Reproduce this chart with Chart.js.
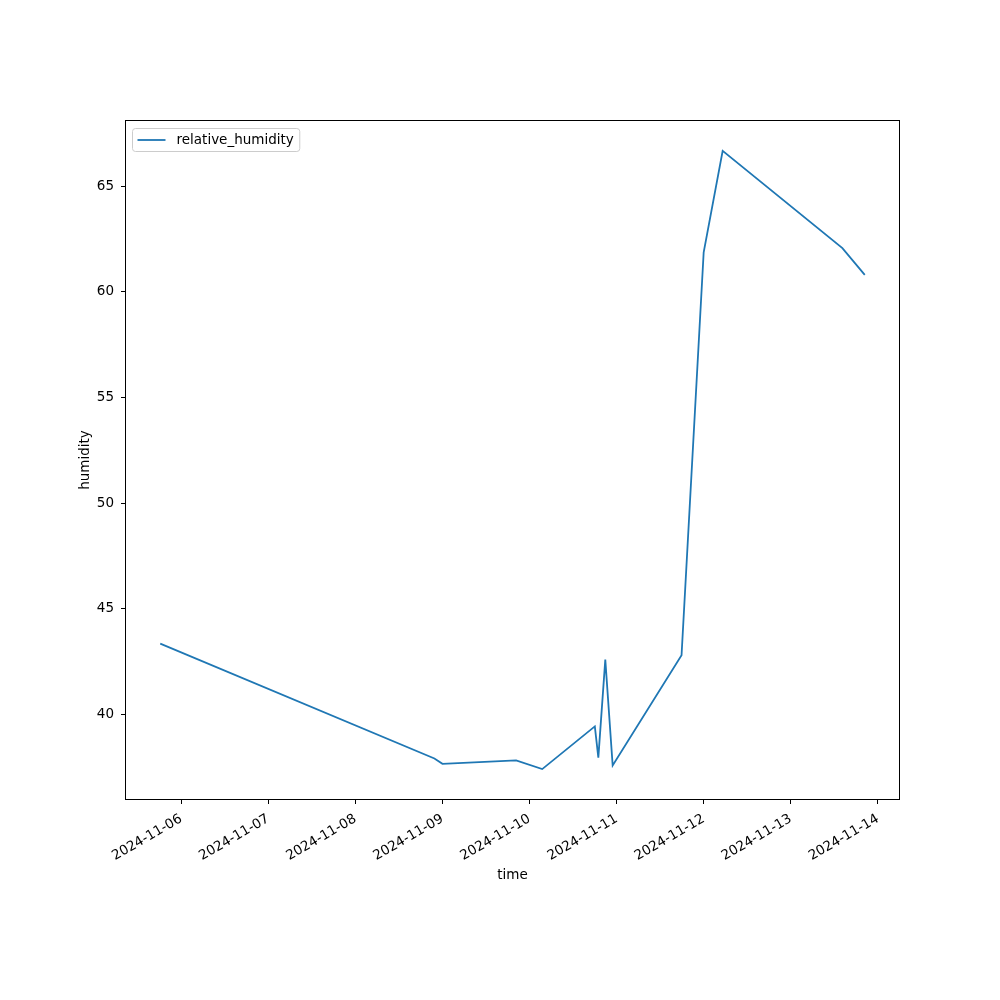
<!DOCTYPE html>
<html>
<head>
<meta charset="utf-8">
<script src="https://cdn.jsdelivr.net/npm/chart.js@4.4.1/dist/chart.umd.min.js"></script>
<style>
  body { margin: 0; background: #fff; }
</style>
</head>
<body>
<canvas id="humidityChart" width="1000" height="1000"></canvas>
<script>
// readings (UTC)
const times = [
  "2024-11-05T18:13", "2024-11-08T21:47", "2024-11-09T00:00", "2024-11-09T20:18",
  "2024-11-10T03:30", "2024-11-10T18:00", "2024-11-10T18:58", "2024-11-10T20:53",
  "2024-11-10T22:55", "2024-11-11T17:54", "2024-11-12T00:00", "2024-11-12T05:14",
  "2024-11-13T14:14", "2024-11-13T20:24"
];
const humidity = [43.35, 37.91, 37.66, 37.82, 37.41, 39.43, 37.95, 42.59, 37.58, 42.8, 61.87, 66.67, 62.07, 60.8];
const dateTicks = ["2024-11-06", "2024-11-07", "2024-11-08", "2024-11-09", "2024-11-10",
                   "2024-11-11", "2024-11-12", "2024-11-13", "2024-11-14"];
const yTicks = [40, 45, 50, 55, 60, 65];

const DAY = 86400000;
const toDays = (s) => Date.parse(s + (s.length > 10 ? ":00Z" : "T00:00:00Z")) / DAY;
const xs = times.map(toDays);

// matplotlib-like 5% margins
const xMin = Math.min(...xs), xMax = Math.max(...xs);
const yMin = Math.min(...humidity), yMax = Math.max(...humidity);
const xPad = (xMax - xMin) * 0.05, yPad = (yMax - yMin) * 0.05;

const points = xs.map((x, i) => ({ x: x, y: humidity[i] }));

Chart.defaults.font.family = "'DejaVu Sans', sans-serif";
Chart.defaults.font.size = 13.5;
Chart.defaults.color = "#000";

// axes frame + legend in the upper left corner of the plot
const framePlugin = {
  id: "frame",
  afterDraw(chart) {
    const c = chart.ctx, a = chart.chartArea;
    c.save();
    c.strokeStyle = "#000";
    c.lineWidth = 1;
    c.strokeRect(Math.round(a.left) + 0.5, Math.round(a.top) + 0.5, Math.round(a.right - a.left) - 1, Math.round(a.bottom - a.top) - 1);

    // legend
    const ds = chart.data.datasets[0];
    c.font = "13.5px 'DejaVu Sans', sans-serif";
    const tw = c.measureText(ds.label).width;
    const bx = a.left + 7.5, by = a.top + 8.5;
    const bw = 45 + tw + 5, bh = 23;
    c.fillStyle = "rgba(255,255,255,0.8)";
    c.strokeStyle = "#cccccc";
    c.beginPath();
    c.roundRect(bx, by, bw, bh, 3);
    c.fill();
    c.stroke();
    const cy = by + bh / 2;
    c.strokeStyle = ds.borderColor;
    c.lineWidth = ds.borderWidth;
    c.beginPath();
    c.moveTo(bx + 5, cy);
    c.lineTo(bx + 33, cy);
    c.stroke();
    c.fillStyle = "#000";
    c.textBaseline = "middle";
    c.fillText(ds.label, bx + 44, cy);
    c.restore();
  }
};

const chart = new Chart(document.getElementById("humidityChart"), {
  type: "line",
  data: {
    datasets: [
      {
        label: "relative_humidity",
        data: points,
        borderColor: "#1f77b4",
        backgroundColor: "#1f77b4",
        borderWidth: 1.8,
        pointRadius: 0,
        tension: 0,
      },
    ],
  },
  options: {
    responsive: false,
    animation: false,
    devicePixelRatio: 1,
    layout: { padding: { left: 73, right: 100, top: 120, bottom: 112 } },
    scales: {
      x: {
        type: "linear",
        min: xMin - xPad,
        max: xMax + xPad,
        afterBuildTicks: (scale) => {
          scale.ticks = dateTicks.map((d) => ({ value: toDays(d) }));
        },
        afterFit: (scale) => { scale.height = 88; },
        ticks: {
          minRotation: 30,
          maxRotation: 30,
          padding: 7,
          callback: (v) => new Date(v * DAY).toISOString().slice(0, 10),
        },
        grid: { drawOnChartArea: false, drawTicks: true, tickLength: 4, color: "#000" },
        border: { display: false },
        title: { display: true, text: "time", padding: { top: 0, bottom: 4 } },
      },
      y: {
        type: "linear",
        min: yMin - yPad,
        max: yMax + yPad,
        afterBuildTicks: (scale) => {
          scale.ticks = yTicks.map((v) => ({ value: v }));
        },
        afterFit: (scale) => { scale.width = 52; },
        ticks: { padding: 7 },
        grid: { drawOnChartArea: false, drawTicks: true, tickLength: 4, color: "#000" },
        border: { display: false },
        title: { display: true, text: "humidity", padding: { top: 4, bottom: 0 } },
      },
    },
    plugins: {
      legend: { display: false },
      tooltip: { enabled: false },
    },
  },
  plugins: [framePlugin],
});
</script>
</body>
</html>
